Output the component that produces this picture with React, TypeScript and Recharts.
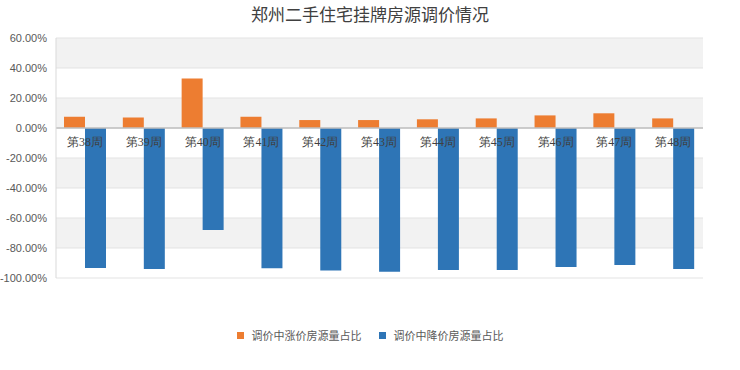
import React from 'react';
import { BarChart, Bar, XAxis, YAxis, CartesianGrid, ReferenceLine, LabelList } from 'recharts';

const weeks = ['第38周', '第39周', '第40周', '第41周', '第42周', '第43周', '第44周', '第45周', '第46周', '第47周', '第48周'];
const riseShare = [7.5, 7.0, 33.0, 7.5, 5.3, 5.3, 5.8, 6.4, 8.4, 9.8, 6.4];
const fallShare = [-93.3, -94.0, -68.0, -93.5, -95.0, -95.8, -94.7, -94.7, -92.7, -91.3, -94.0];
const yTicks = [60, 40, 20, 0, -20, -40, -60, -80, -100];
const seriesNames = ['调价中涨价房源量占比', '调价中降价房源量占比'];
const colors = ['#ED7D31', '#2E75B6'];

const data = weeks.map((w, i) => ({ week: w, rise: riseShare[i], fall: fallShare[i] }));

const W = 740;
const H = 370;
const TOP = 38;
const BOTTOM = 72;
const XAXIS_H = 20;
const Y_MAX = 60;
const Y_MIN = -100;
const MARGIN = { top: TOP, right: 37, bottom: BOTTOM, left: 0 };

// Category label at the zero line, centred on the category (left edge of the second bar)
const WeekLabel = (props: any) => {
  const { x, y, height, value } = props;
  const top = Math.min(Number(y), Number(y) + Number(height));
  return (
    <text x={Number(x)} y={top + 18} textAnchor="middle" fontFamily="'Liberation Serif', serif" fontSize={12} fill="#404040">
      {value}
    </text>
  );
};

const LegendBox = () => (
  <div style={{ position: 'absolute', top: 327, left: 0, width: W, display: 'flex', justifyContent: 'center', alignItems: 'center', fontFamily: "'Noto Sans CJK SC', sans-serif", fontSize: 11, color: '#595959', lineHeight: '16px' }}>
    {seriesNames.map((n, i) => (
      <div key={n} style={{ display: 'flex', alignItems: 'center', marginRight: i === 0 ? 17 : 0 }}>
        <span style={{ display: 'inline-block', width: 7, height: 7, background: colors[i], marginRight: 8 }} />
        <span>{n}</span>
      </div>
    ))}
  </div>
);

export default function App() {
  return (
    <div style={{ position: 'fixed', left: 0, top: 0, width: W, height: H, background: '#fff' }}>
      <div style={{ position: 'absolute', top: 3, left: 0, width: W, textAlign: 'center', fontFamily: "'Noto Sans CJK SC', sans-serif", fontSize: 17, color: '#404040', lineHeight: '22px' }}>
        郑州二手住宅挂牌房源调价情况
      </div>
      <div style={{ position: 'absolute', left: 0, top: 0 }}>
        <BarChart width={W} height={H} data={data} margin={MARGIN} barGap={0} barSize={21}>
          <CartesianGrid vertical={false} stroke="#e3e3e3" horizontalFill={['#f2f2f2', '#ffffff']} fillOpacity={1} />
          <YAxis
            type="number"
            domain={[Y_MIN, Y_MAX]}
            ticks={yTicks}
            interval={0}
            width={56}
            tickSize={0}
            tickMargin={9}
            axisLine={{ stroke: '#d9d9d9' }}
            tickLine={false}
            tickFormatter={(v: number) => `${v.toFixed(2)}%`}
            tick={{ fontFamily: "'Liberation Sans', Arial, sans-serif", fontSize: 11, fill: '#595959' }}
          />
          <YAxis yAxisId="r" orientation="right" domain={[Y_MIN, Y_MAX]} width={0} tick={false} tickLine={false} axisLine={{ stroke: '#d9d9d9' }} />
          <XAxis dataKey="week" height={XAXIS_H} axisLine={false} tickLine={false} interval={0} tick={false} />
          <Bar dataKey="rise" name={seriesNames[0]} fill={colors[0]} isAnimationActive={false} />
          <Bar dataKey="fall" name={seriesNames[1]} fill={colors[1]} isAnimationActive={false} />
          <ReferenceLine y={0} stroke="#bfbfbf" strokeWidth={1.5} />
        </BarChart>
      </div>
      <div style={{ position: 'absolute', left: 0, top: 0, pointerEvents: 'none', zIndex: 5 }}>
        <BarChart width={W} height={H} data={data} margin={MARGIN} barGap={0} barSize={21}>
          <YAxis type="number" domain={[Y_MIN, Y_MAX]} ticks={yTicks} width={56} tick={false} tickLine={false} axisLine={false} />
          <YAxis yAxisId="r" orientation="right" domain={[Y_MIN, Y_MAX]} width={0} tick={false} tickLine={false} axisLine={false} />
          <XAxis dataKey="week" height={XAXIS_H} axisLine={false} tickLine={false} interval={0} tick={false} />
          <Bar dataKey="rise" fill="transparent" isAnimationActive={false} />
          <Bar dataKey="fall" fill="transparent" isAnimationActive={false}>
            <LabelList dataKey="week" content={<WeekLabel />} />
          </Bar>
        </BarChart>
      </div>
      <LegendBox />
    </div>
  );
}
